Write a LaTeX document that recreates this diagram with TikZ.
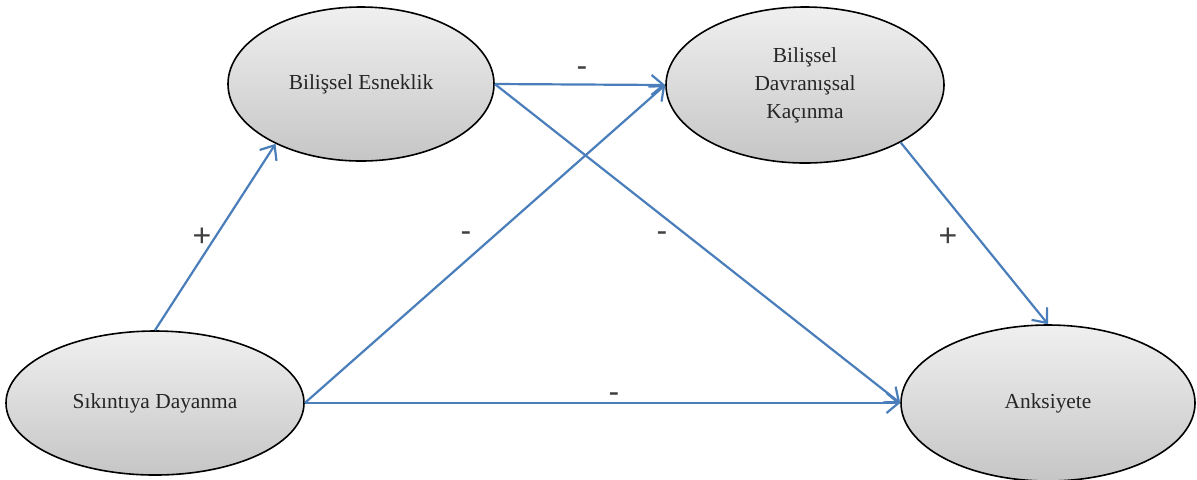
\documentclass[tikz,border=0pt]{standalone}
\usepackage{fontspec}
\setmainfont{Liberation Serif}
\newfontfamily\isaretfont{Liberation Sans}
\usetikzlibrary{shapes.geometric,arrows.meta}

\definecolor{okmavi}{RGB}{74,126,187}

\tikzset{
  oval/.style={ellipse,draw=black,line width=0.8pt,top color=gray!12,bottom color=gray!45,
    text=black!85,font=\fontsize{10.7}{14}\selectfont,align=center,inner sep=0pt},
  yol/.style={draw=okmavi,line width=1.1pt,-{Straight Barb[length=6pt,width=10pt,line width=1.1pt]}},
  isaret/.style={text=black!75,font=\fontsize{16}{16}\selectfont\isaretfont}
}

\begin{document}
\begin{tikzpicture}[x=0.5pt,y=-0.5pt]
  \useasboundingbox (0,0) rectangle (1197,479);

  % değişkenler
  \node[oval,minimum width=133pt,minimum height=77pt] (be) at (361,84) {Bilişsel Esneklik};
  \node[oval,minimum width=139pt,minimum height=78pt] (bdk) at (805,85) {Bilişsel\\Davranışsal\\Kaçınma};
  \node[oval,minimum width=149pt,minimum height=72pt] (sd) at (155,403) {Sıkıntıya Dayanma};
  \node[oval,minimum width=147pt,minimum height=78pt] (anx) at (1048,403) {Anksiyete};

  % yollar
  \draw[yol] (sd.north) -- (be.215);
  \draw[yol] (sd.east) -- (bdk.west);
  \draw[yol] (sd.east) -- (anx.west);
  \draw[yol] (be.east) -- (bdk.west);
  \draw[yol] (be.east) -- (anx.west);
  \draw[yol] (bdk.-31) -- (anx.north);

  % işaretler
  \node[isaret] (p1) at (202,237) {+};
  \node[isaret] (m1) at (466,237) {-};
  \node[isaret] (m2) at (662,237) {-};
  \node[isaret] (p2) at (948,237) {+};
  \node[isaret] (m3) at (582,72) {-};
  \node[isaret] (m4) at (614,398) {-};
\end{tikzpicture}
\end{document}
